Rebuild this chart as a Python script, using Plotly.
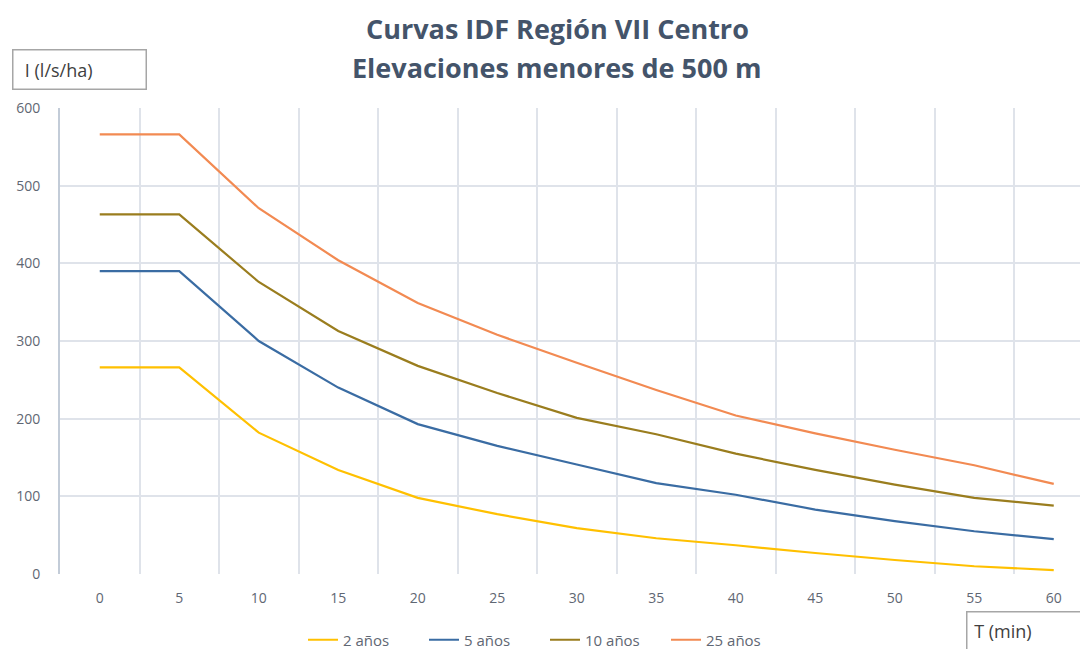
import plotly.graph_objects as go

# ---- data ----
durations = ["0", "5", "10", "15", "20", "25", "30", "35", "40", "45", "50", "55", "60"]
i_2 = [266, 266, 182, 134, 98, 77, 59, 46, 37, 27, 18, 10, 5]
i_5 = [390, 390, 300, 240, 193, 165, 141, 117, 102, 83, 68, 55, 45]
i_10 = [463, 463, 376, 313, 268, 233, 201, 180, 155, 134, 115, 98, 88]
i_25 = [566, 566, 471, 404, 349, 308, 272, 237, 204, 181, 160, 140, 116]

series_names = ["2 años", "5 años", "10 años", "25 años"]
series_values = [i_2, i_5, i_10, i_25]
series_colors = ["#FFC000", "#3A6CA3", "#9A7D1E", "#F28A52"]

y_ticks = [0, 100, 200, 300, 400, 500, 600]

title_line1 = "Curvas IDF Región VII Centro"
title_line2 = "Elevaciones menores de 500 m"
y_title = "I (l/s/ha)"
x_title = "T (min)"

FONT = "Open Sans"
TEXT_GRAY = "#5f6773"
GRID = "#DFE3EA"

fig = go.Figure()
for name, vals, col in zip(series_names, series_values, series_colors):
    fig.add_trace(go.Scatter(x=durations, y=vals, name=name, mode="lines",
                             line=dict(color=col, width=2.2)))

# the page body has an 8px margin; the figure starts at (8, 8) on screen
OFF = 8
W, H = 1088 - OFF, 649
L, T = 60 - OFF, 108 - OFF
B = H - T - 466
plot_h = H - T - B
plot_w = W - L
cat_w = 79.5
x_hi = -0.5 + plot_w / cat_w

def px_x(px):
    return (px - 60) / plot_w

def px_y(py):
    return (574 - py) / plot_h

fig.update_layout(
    width=W, height=H,
    margin=dict(l=L, r=0, t=T, b=B, pad=0),
    paper_bgcolor="white", plot_bgcolor="white",
    font=dict(family=FONT, color=TEXT_GRAY, size=14),
    showlegend=True,
    legend=dict(orientation="h", x=px_x(545), xanchor="center", y=px_y(640), yanchor="middle",
                font=dict(size=15, color=TEXT_GRAY), bgcolor="rgba(0,0,0,0)",
                itemwidth=30, tracegroupgap=0, entrywidth=76, entrywidthmode="pixels"),
)

fig.update_xaxes(type="category", tickson="boundaries", range=[-0.5, x_hi],
                 showgrid=True, gridcolor=GRID, gridwidth=1.5,
                 showline=False, zeroline=False, ticks="",
                 ticklabelstandoff=14,
                 tickfont=dict(size=14, color=TEXT_GRAY))
fig.update_yaxes(range=[0, 600], tickvals=y_ticks, ticktext=[str(v) for v in y_ticks],
                 showgrid=True, gridcolor=GRID, gridwidth=1.5,
                 showline=True, linecolor="#C3CCD8", linewidth=2,
                 zeroline=False, ticks="", ticklabelstandoff=15,
                 tickfont=dict(size=14, color=TEXT_GRAY))

# titles
fig.add_annotation(text="<b>" + title_line1 + "</b>", xref="paper", yref="paper",
                   x=px_x(557), y=px_y(28), xanchor="center", yanchor="middle",
                   showarrow=False, font=dict(size=27, color="#44546A", family=FONT))
fig.add_annotation(text="<b>" + title_line2 + "</b>", xref="paper", yref="paper",
                   x=px_x(556), y=px_y(67), xanchor="center", yanchor="middle",
                   showarrow=False, font=dict(size=27, color="#44546A", family=FONT))

# axis title boxes
fig.add_annotation(text="&nbsp;&nbsp;" + y_title, xref="paper", yref="paper",
                   x=px_x(79.5), y=px_y(70), xanchor="center", yanchor="middle",
                   showarrow=False, align="left", width=128, height=34,
                   bordercolor="#A6A6A6", borderwidth=1.5, borderpad=2, bgcolor="white",
                   font=dict(size=18, color="#404040", family=FONT))
fig.add_annotation(text="&nbsp;" + x_title, xref="paper", yref="paper",
                   x=px_x(966), y=px_y(631), xanchor="left", yanchor="middle",
                   showarrow=False, align="left", width=140, height=33,
                   bordercolor="#A6A6A6", borderwidth=1.5, borderpad=2, bgcolor="white",
                   font=dict(size=18, color="#404040", family=FONT))

fig.write_html("out.html")
